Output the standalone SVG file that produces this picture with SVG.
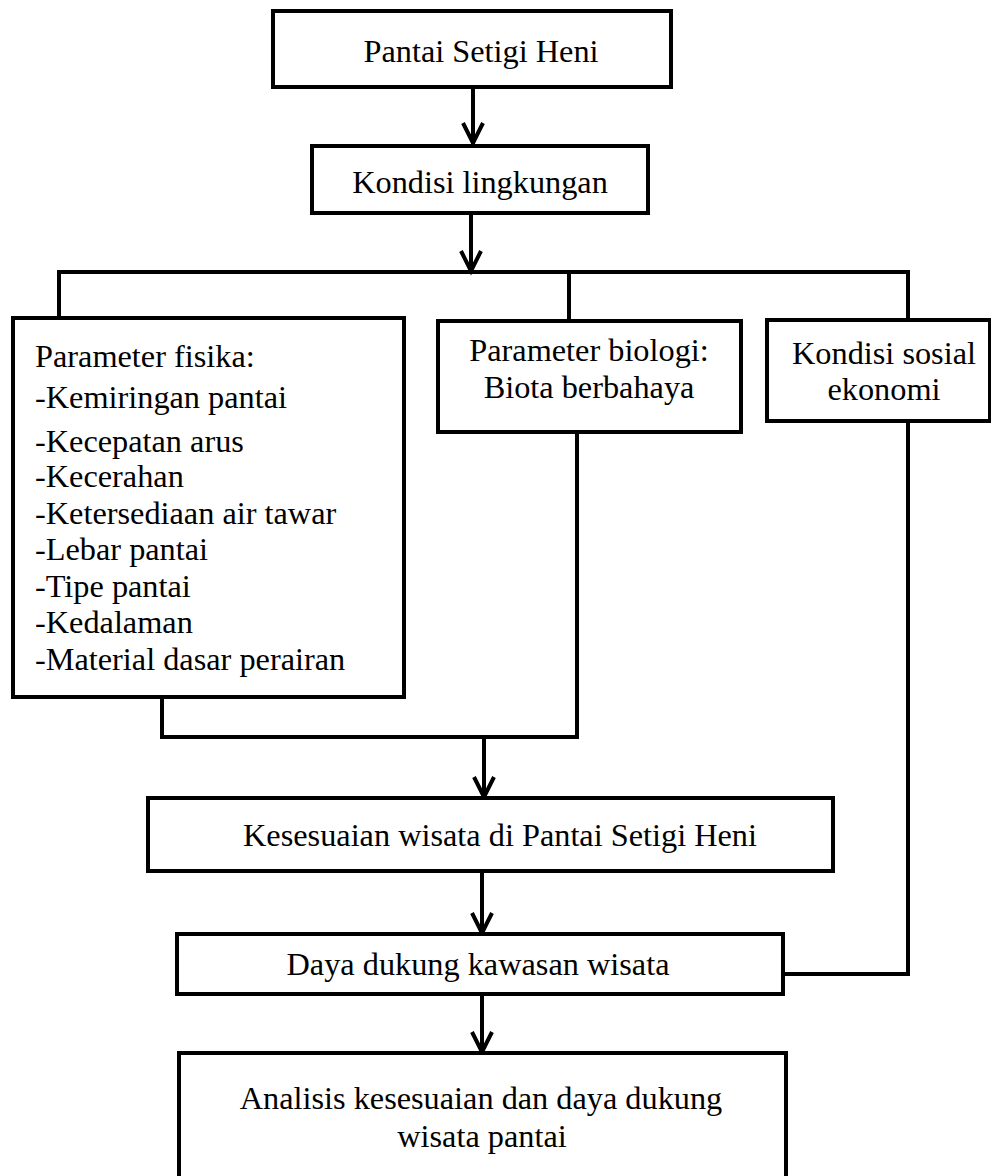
<svg xmlns="http://www.w3.org/2000/svg" width="991" height="1176" viewBox="0 0 991 1176">
<style>
.box{fill:#fff;stroke:#000;stroke-width:4;stroke-linejoin:miter}
.ln{fill:none;stroke:#000;stroke-width:4;stroke-linejoin:miter;stroke-linecap:square}
.ah{fill:none;stroke:#000;stroke-width:4;stroke-linejoin:miter}
text{font-family:"Liberation Serif","Times New Roman",serif;font-size:32.3px;fill:#000}
.c{text-anchor:middle}
</style>
<rect width="991" height="1176" fill="#fff"/>
<g id="connectors">
  <path class="ln" d="M473,87 V144"/>
  <path class="ah" d="M463,123 L473,143 L483,123"/>
  <path class="ln" d="M471,213 V270"/>
  <path class="ah" d="M461,251 L471,271 L481,251"/>
  <path class="ln" d="M59,318 V272 H908 V320"/>
  <path class="ln" d="M569,272 V321"/>
  <path class="ln" d="M162,697 V737 H577 V432"/>
  <path class="ln" d="M484,737 V796"/>
  <path class="ah" d="M474,777 L484,797 L494,777"/>
  <path class="ln" d="M482,871 V932"/>
  <path class="ah" d="M472,913 L482,933 L492,913"/>
  <path class="ln" d="M908,421 V974 H783"/>
  <path class="ln" d="M482,994 V1051"/>
  <path class="ah" d="M472,1032 L482,1052 L492,1032"/>
</g>
<g id="n1">
  <rect class="box" x="273" y="11" width="398" height="76"/>
  <text class="c" x="481" y="62">Pantai Setigi Heni</text>
</g>
<g id="n2">
  <rect class="box" x="312" y="146" width="336" height="67"/>
  <text class="c" x="480" y="193">Kondisi lingkungan</text>
</g>
<g id="n3">
  <rect class="box" x="13" y="318" width="391" height="379"/>
  <text x="35" y="367">Parameter fisika:</text>
  <text x="35" y="408">-Kemiringan pantai</text>
  <text x="35" y="452">-Kecepatan arus</text>
  <text x="35" y="487">-Kecerahan</text>
  <text x="35" y="524">-Ketersediaan air tawar</text>
  <text x="35" y="560">-Lebar pantai</text>
  <text x="35" y="597">-Tipe pantai</text>
  <text x="35" y="633">-Kedalaman</text>
  <text x="35" y="670">-Material dasar perairan</text>
</g>
<g id="n4">
  <rect class="box" x="438" y="321" width="303" height="111"/>
  <text class="c" x="589" y="361">Parameter biologi:</text>
  <text class="c" x="589" y="398">Biota berbahaya</text>
</g>
<g id="n5">
  <rect class="box" x="767" y="320" width="223" height="101"/>
  <text class="c" x="884" y="364">Kondisi sosial</text>
  <text class="c" x="884" y="400">ekonomi</text>
</g>
<g id="n6">
  <rect class="box" x="148" y="798" width="685" height="73"/>
  <text class="c" x="500" y="846">Kesesuaian wisata di Pantai Setigi Heni</text>
</g>
<g id="n7">
  <rect class="box" x="177" y="934" width="606" height="60"/>
  <text class="c" x="478" y="975">Daya dukung kawasan wisata</text>
</g>
<g id="n8">
  <rect class="box" x="179" y="1053" width="607" height="130"/>
  <text class="c" x="481" y="1109">Analisis kesesuaian dan daya dukung</text>
  <text class="c" x="482" y="1147">wisata pantai</text>
</g>
</svg>
